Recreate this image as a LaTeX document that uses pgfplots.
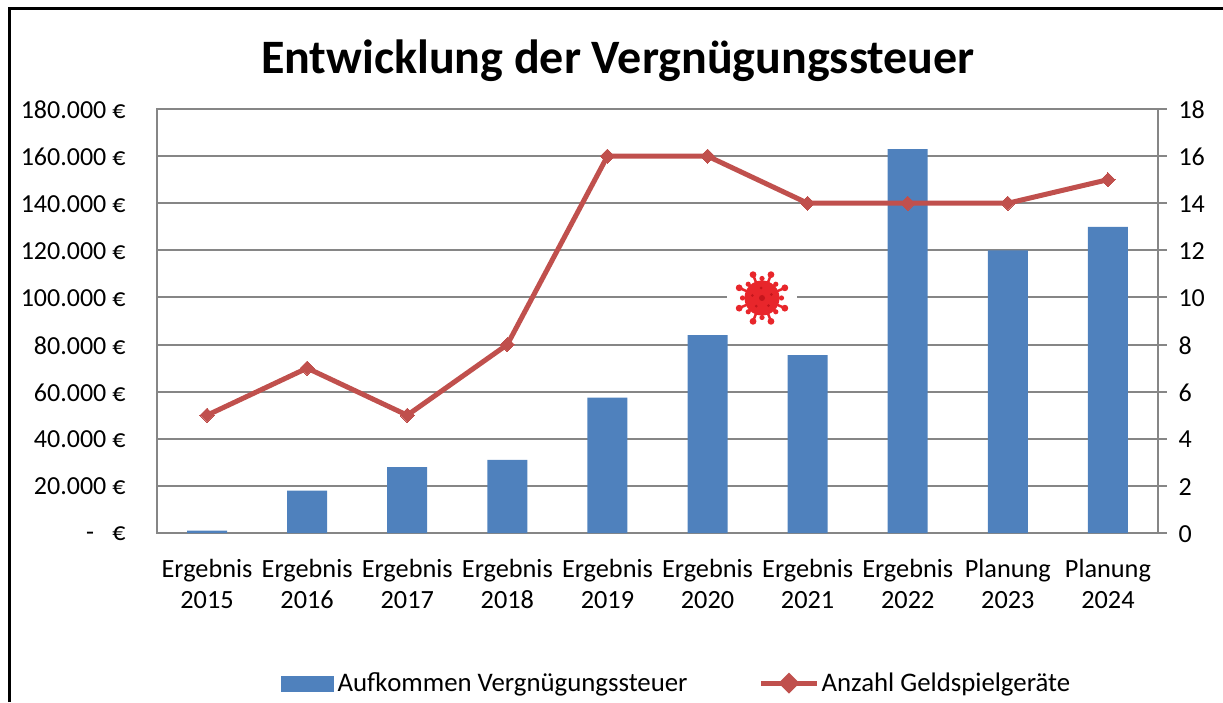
\documentclass[border=0pt]{standalone}
\usepackage{fontspec}
\setmainfont{Carlito}
\usepackage{pgfplots}
\pgfplotsset{compat=1.18}
\definecolor{barblue}{HTML}{4F81BD}
\definecolor{linered}{HTML}{C0504D}
\definecolor{gridgray}{HTML}{868686}
\definecolor{virus}{HTML}{E8262B}
\definecolor{virusd}{HTML}{C4161C}
\begin{document}
\begin{tikzpicture}[x=1pt,y=1pt]
\useasboundingbox (0,0) rectangle (1223,702);
\begin{axis}[
  at={(157pt,169pt)}, anchor=south west,
  scale only axis, width=1001pt, height=424pt,
  xmin=-0.5, xmax=9.5, ymin=0, ymax=180000,
  ybar, bar width=40pt,
  scaled y ticks=false,
  axis line style={draw=gridgray, line width=2pt},
  ymajorgrids, grid style={draw=gridgray, line width=2pt},
  ytick={0,20000,40000,60000,80000,100000,120000,140000,160000,180000},
  yticklabels={-\hspace{0.7em}€,20.000 €,40.000 €,60.000 €,80.000 €,100.000 €,120.000 €,140.000 €,160.000 €,180.000 €},
  xtick={0,...,9},
  xticklabels={{Ergebnis\\2015},{Ergebnis\\2016},{Ergebnis\\2017},{Ergebnis\\2018},{Ergebnis\\2019},{Ergebnis\\2020},{Ergebnis\\2021},{Ergebnis\\2022},{Planung\\2023},{Planung\\2024}},
  major tick length=0pt,
  tick style={draw=none},
  yticklabel style={font=\fontsize{26}{31}\selectfont, anchor=east, xshift=-28pt, yshift=-0.7pt},
  xticklabel style={font=\fontsize{26.3}{31}\selectfont, align=center, anchor=north, yshift=-23pt},
]
\addplot[fill=barblue, draw=none] coordinates {
 (0,1000) (1,18000) (2,28000) (3,31000) (4,57500)
 (5,84000) (6,75500) (7,163000) (8,120000) (9,130000)};
\end{axis}
\begin{axis}[
  at={(157pt,169pt)}, anchor=south west,
  scale only axis, width=1001pt, height=424pt,
  xmin=-0.5, xmax=9.5, ymin=0, ymax=18,
  axis x line=none,
  axis y line*=right,
  axis line style={draw=gridgray, line width=2pt, -},
  ytick={0,2,...,18},
  tick align=outside,
  major tick length=9pt,
  /pgf/number format/assume math mode=true,
  ytick style={draw=gridgray, line width=2pt},
  yticklabel style={font=\fontsize{26}{31}\selectfont, anchor=west, xshift=8pt, yshift=-0.7pt},
  legend style={draw=none, fill=none, at={(0.124,-0.354)}, anchor=west,
    font=\fontsize{26.8}{31}\selectfont, legend columns=2, inner sep=0pt,
    /tikz/every even column/.append style={column sep=69pt}},
  legend cell align=left,
]
\addlegendimage{legend image code/.code={\fill[barblue] (0pt,-8pt) rectangle (52pt,7pt); \path[draw=none] (0pt,0pt) -- (54pt,0pt);}}
\addlegendentry{Aufkommen Vergnügungssteuer}
\addplot[linered, line width=5pt, mark=square*, mark size=5pt,
  mark options={line width=0pt, fill=linered, draw=linered, rotate=45},
  legend image code/.code={
    \draw[linered, line width=5pt] (0pt,0pt) -- (56pt,0pt);
    \fill[linered] (28pt,7pt) -- (21pt,0pt) -- (28pt,-7pt) -- (35pt,0pt) -- cycle;
    \path[draw=none] (0pt,0pt) -- (57pt,0pt);}]
  coordinates {(0,5) (1,7) (2,5) (3,8) (4,16) (5,16) (6,14) (7,14) (8,14) (9,15)};
\addlegendentry{Anzahl Geldspielgeräte}
\end{axis}
% title
\node[anchor=base, font=\fontsize{48}{52}\selectfont\bfseries] at (618,628) {Entwicklung der Vergnügungssteuer};
% frame
\draw[black, line width=3pt] (9,0) -- (9,693.5) -- (1223,693.5);
% virus icon
\begin{scope}[shift={(762,404)}]
  \fill[white] (0,0) circle (35);
  \foreach \a in {24,69,111,156,204,249,291,336} {
    \draw[virus, line width=2.5pt] (0,0) -- (\a:24);
    \fill[virus] (\a:25) circle (3.4);
  }
  \foreach \a in {0,45,...,315} {
    \draw[virus, line width=2.5pt] (0,0) -- (\a:19);
    \fill[virus] (\a:19.5) circle (2.6);
  }
  \fill[virus] (0,0) circle (17.5);
  \fill[virusd] (0,0) circle (3);
  \foreach \a in {20,95,165,235,310} { \fill[virusd] (\a:10) circle (1.5); }
\end{scope}
\end{tikzpicture}
\end{document}
